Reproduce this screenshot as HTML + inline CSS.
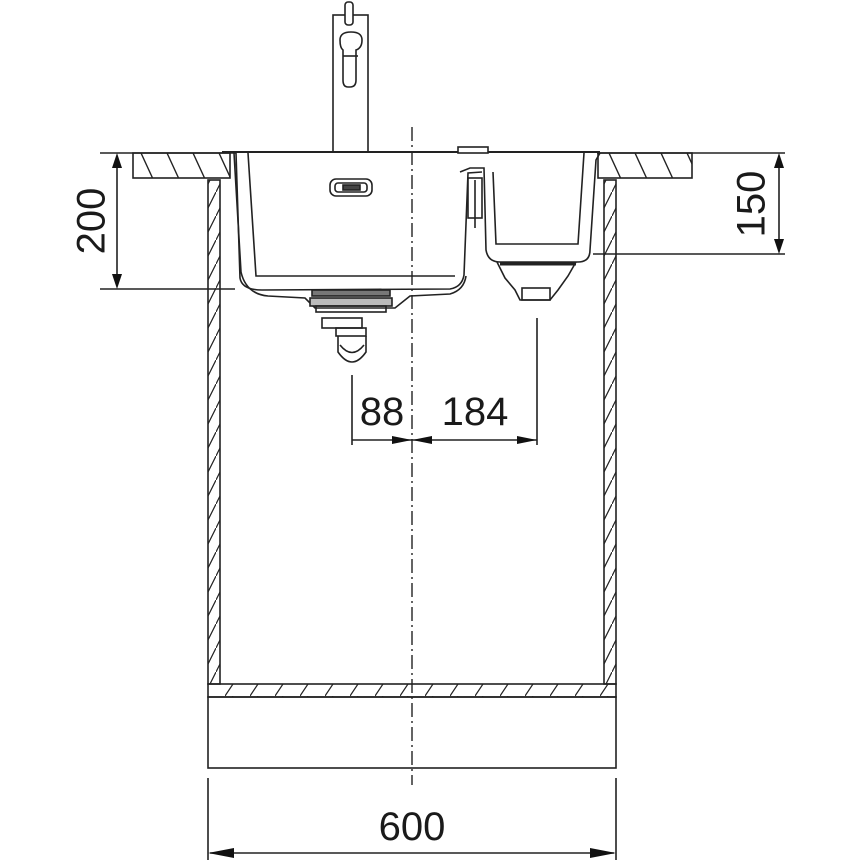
<!DOCTYPE html>
<html><head><meta charset="utf-8"><style>
html,body{margin:0;padding:0;background:#fff;}
svg{display:block}
text{font-family:"Liberation Sans",sans-serif;fill:#1a1a1a}
</style></head><body>
<svg width="860" height="860" viewBox="0 0 860 860" xmlns="http://www.w3.org/2000/svg">
<defs>
<pattern id="hv" width="12" height="24" patternUnits="userSpaceOnUse">
<line x1="0" y1="24" x2="12" y2="0" stroke="#222" stroke-width="1.2"/>
</pattern>
<pattern id="hh" width="25" height="12" patternUnits="userSpaceOnUse">
<line x1="0" y1="12" x2="8" y2="0" stroke="#222" stroke-width="1.2"/>
</pattern>
<pattern id="hc" width="26" height="26" patternUnits="userSpaceOnUse" patternTransform="translate(133,153)">
<line x1="8" y1="0" x2="20" y2="26" stroke="#222" stroke-width="1.4"/>
</pattern>
</defs>
<g fill="none" stroke="#222" stroke-width="1.6">
<rect x="208" y="180" width="12" height="504" fill="url(#hv)"/>
<rect x="604" y="180" width="12" height="504" fill="url(#hv)"/>
<rect x="208" y="684" width="408" height="13" fill="url(#hh)"/>
<rect x="208" y="697" width="408" height="71"/>
<rect x="133" y="153" width="97" height="25" fill="url(#hc)"/>
<rect x="598" y="153" width="94" height="25" fill="url(#hc)"/>
<line x1="100" y1="153" x2="222" y2="153"/>
<line x1="597" y1="153" x2="785" y2="153"/>
<rect x="333" y="15" width="35" height="137" fill="#fff"/>
<rect x="345" y="2" width="8" height="23" rx="3" fill="#fff"/>
<path d="M340 40 Q340 32 351 32 Q362 32 362 40 Q362 48 356 50 L356 80 Q356 87 350 87 L348 87 Q343 87 343 80 L343 50 Q340 48 340 40 Z" fill="#fff"/>
<line x1="343" y1="56" x2="358" y2="56"/>
<line x1="222" y1="152" x2="600" y2="152" stroke-width="2"/>
<rect x="458" y="147" width="30" height="6" fill="#fff"/>
<path d="M222 153 L236 153 L240 278 Q242 290 262 290 L450 289 Q462 287 464 275 L468 173 L482 172"/>
<path d="M234 153 L241 272 Q246 294 268 296 L305 298 L315 308 L395 308 L410 296 L450 294 Q464 290 466 276"/>
<path d="M248 153 L256 276 L455 276"/>
<rect x="330" y="179" width="42" height="17" rx="6"/>
<rect x="335" y="183" width="32" height="9" rx="3"/>
<rect x="343" y="185" width="17" height="5" fill="#444"/>
<rect x="312" y="290" width="78" height="6" fill="#777"/>
<rect x="310" y="298" width="82" height="8" fill="#bbb"/>
<rect x="316" y="306" width="70" height="6"/>
<rect x="322" y="318" width="40" height="10"/>
<rect x="336" y="328" width="30" height="8"/>
<path d="M338 336 L338 352 Q352 372 366 352 L366 336"/>
<path d="M340 345 Q352 360 364 345"/>
<path d="M460 172 L470 168 L484 168 L486 250 Q488 262 500 262 L578 262 Q590 262 590 250 L596 160 L600 153"/>
<path d="M493 172 L496 244 L578 244 L584 153"/>
<rect x="468" y="178" width="14" height="40"/>
<line x1="475" y1="180" x2="475" y2="228"/>
<path d="M497 262 L505 278 L515 290 L520 300 L550 300 L558 290 L568 276 L576 262"/>
<rect x="522" y="288" width="28" height="12"/>
<path d="M500 264 L576 264" stroke-width="3"/>
<line x1="100" y1="289" x2="235" y2="289"/>
<line x1="117" y1="158" x2="117" y2="284"/>
<line x1="593" y1="254" x2="785" y2="254"/>
<line x1="779" y1="158" x2="779" y2="249"/>
<line x1="352" y1="375" x2="352" y2="445"/>
<line x1="537" y1="318" x2="537" y2="445"/>
<line x1="352" y1="440" x2="537" y2="440"/>
<line x1="208" y1="778" x2="208" y2="860"/>
<line x1="616" y1="778" x2="616" y2="860"/>
<line x1="210" y1="853" x2="614" y2="853"/>
</g>
<line x1="412" y1="127" x2="412" y2="785" stroke="#222" stroke-width="1.4" stroke-dasharray="14,4,2,4"/>
<g fill="#111">
<polygon points="117,153 112,168 122,168"/>
<polygon points="117,289 112,274 122,274"/>
<polygon points="779,153 774,168 784,168"/>
<polygon points="779,254 774,239 784,239"/>
<polygon points="412,440 392,436 392,444"/>
<polygon points="412,440 432,436 432,444"/>
<polygon points="537,440 517,436 517,444"/>
<polygon points="208,853 234,848 234,858"/>
<polygon points="616,853 590,848 590,858"/>
</g>
<text x="94" y="221" font-size="40" text-anchor="middle" transform="rotate(-90 94 221)" dominant-baseline="middle">200</text>
<text x="754" y="204" font-size="40" text-anchor="middle" transform="rotate(-90 754 204)" dominant-baseline="middle">150</text>
<text x="382" y="425" font-size="40" text-anchor="middle">88</text>
<text x="475" y="425" font-size="40" text-anchor="middle">184</text>
<text x="412" y="840" font-size="40" text-anchor="middle">600</text>
</svg>
</body></html>
